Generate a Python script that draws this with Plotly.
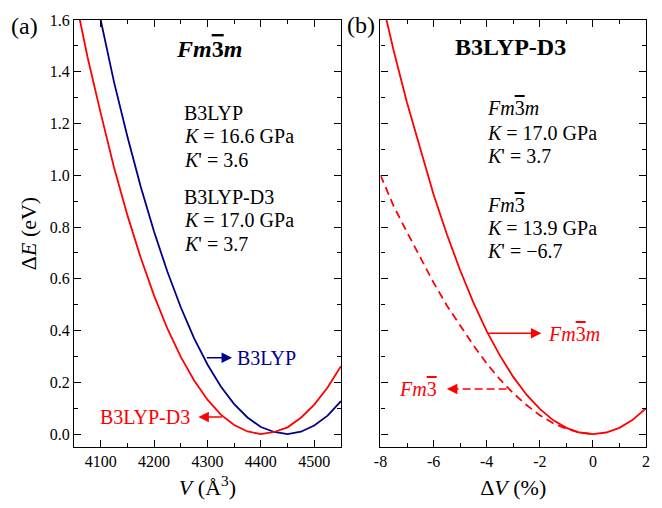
import plotly.graph_objects as go

# ---------------- data ----------------
V_grid = [4050, 4075, 4100, 4125, 4150, 4175, 4200, 4225, 4250, 4275, 4300,
          4325, 4350, 4375, 4400, 4425, 4450, 4475, 4500, 4525, 4550]
E_b3lyp = [2.13, 1.85, 1.60, 1.36, 1.15, 0.956, 0.782, 0.627, 0.490, 0.370, 0.269,
           0.184, 0.116, 0.064, 0.027, 0.008, 0.000, 0.009, 0.033, 0.071, 0.127]
E_b3lyp_d3 = [1.71, 1.46, 1.24, 1.03, 0.846, 0.681, 0.535, 0.407, 0.298, 0.207, 0.133,
              0.075, 0.035, 0.010, 0.000, 0.008, 0.026, 0.063, 0.114, 0.180, 0.262]

dV_grid = [-8, -7.5, -7, -6.5, -6, -5.5, -5, -4.5, -4, -3.5, -3, -2.5, -2,
           -1.5, -1, -0.5, 0, 0.5, 1, 1.5, 2]
E_fm3m = [1.70, 1.48, 1.28, 1.10, 0.926, 0.772, 0.633, 0.508, 0.398, 0.303, 0.221,
          0.152, 0.097, 0.054, 0.024, 0.006, 0.000, 0.006, 0.024, 0.055, 0.100]
dV_fm3 = [-8, -7.5, -7, -6.5, -6, -5.5, -5, -4.5, -4, -3.5, -3, -2.5, -2,
          -1.5, -1, -0.5, 0]
E_fm3 = [1.00, 0.88, 0.78, 0.68, 0.585, 0.497, 0.418, 0.343, 0.273, 0.211, 0.158,
         0.112, 0.073, 0.042, 0.020, 0.006, 0.000]

x1_ticks = [4100, 4200, 4300, 4400, 4500]
x1_ticktext = ["4100", "4200", "4300", "4400", "4500"]
x2_ticks = [-8, -6, -4, -2, 0, 2]
x2_ticktext = ["-8", "-6", "-4", "-2", "0", "2"]

RED = "#FF0000"
BLUE = "#00008C"
FONT = "Liberation Serif, Times New Roman, serif"
THREE_BAR = '<span style="text-decoration:overline">3</span>'
FM3M = "<i>Fm</i>" + THREE_BAR + "<i>m</i>"
FM3 = "<i>Fm</i>" + THREE_BAR

fig = go.Figure()
fig.add_trace(go.Scatter(x=V_grid, y=E_b3lyp, mode="lines",
                         line=dict(color=BLUE, width=1.8), xaxis="x", yaxis="y"))
fig.add_trace(go.Scatter(x=V_grid, y=E_b3lyp_d3, mode="lines",
                         line=dict(color=RED, width=1.8), xaxis="x", yaxis="y"))
fig.add_trace(go.Scatter(x=dV_fm3, y=E_fm3, mode="lines",
                         line=dict(color=RED, width=1.8, dash="8px,5px"), xaxis="x2", yaxis="y2"))
fig.add_trace(go.Scatter(x=dV_grid, y=E_fm3m, mode="lines",
                         line=dict(color=RED, width=1.8), xaxis="x2", yaxis="y2"))

common = dict(showline=True, linecolor="black", linewidth=1.3, mirror="ticks",
              ticks="inside", ticklen=7, tickwidth=1.3, tickcolor="black",
              showgrid=False, zeroline=False,
              tickfont=dict(family=FONT, size=16, color="black"))

fig.update_layout(
    width=662, height=508,
    margin=dict(l=74, r=14, t=16, b=59),
    paper_bgcolor="white", plot_bgcolor="white",
    showlegend=False,
    font=dict(family=FONT, color="black"),
    xaxis=dict(domain=[0, 0.4667], range=[4050, 4550], tickmode="array",
               tickvals=x1_ticks, ticktext=x1_ticktext,
               minor=dict(ticks="inside", ticklen=4, tickwidth=1.3, tickcolor="black",
                          tick0=4050, dtick=50),
               title=dict(text="<i>V</i> (Å<sup>3</sup>)", font=dict(family=FONT, size=22),
                          standoff=10),
               anchor="y", **common),
    yaxis=dict(domain=[0, 1], range=[-0.05, 1.6], dtick=0.2, tick0=0, tickformat=".1f",
               minor=dict(ticks="inside", ticklen=4, tickwidth=1.3, tickcolor="black",
                          tick0=0, dtick=0.1),
               title=dict(text="Δ<i>E</i> (eV)", font=dict(family=FONT, size=22),
                          standoff=6),
               anchor="x", **common),
    xaxis2=dict(domain=[0.5358, 1], range=[-8, 2], tickmode="array",
                tickvals=x2_ticks, ticktext=x2_ticktext,
                minor=dict(ticks="inside", ticklen=4, tickwidth=1.3, tickcolor="black",
                           tick0=0, dtick=1),
                title=dict(text="Δ<i>V</i> (%)", font=dict(family=FONT, size=22),
                           standoff=10),
                anchor="y2", **common),
    yaxis2=dict(domain=[0, 1], range=[-0.05, 1.6], dtick=0.2, tick0=0,
                showticklabels=False, matches="y",
                minor=dict(ticks="inside", ticklen=4, tickwidth=1.3, tickcolor="black",
                           tick0=0, dtick=0.1),
                anchor="x2", **common),
)

ann = []
def txt(text, x, y, xref, yref, size=20, color="black", xanchor="left", yanchor="middle"):
    ann.append(dict(text=text, x=x, y=y, xref=xref, yref=yref, showarrow=False,
                    font=dict(family=FONT, size=size, color=color),
                    xanchor=xanchor, yanchor=yanchor))

def arrow(xh, yh, xt, yt, xref, yref, color):
    ann.append(dict(text="", x=xh, y=yh, ax=xt, ay=yt, xref=xref, yref=yref,
                    axref=xref, ayref=yref, showarrow=True, arrowhead=2,
                    arrowsize=1.4, arrowwidth=1.5, arrowcolor=color, standoff=0))

# panel labels
txt("(a)", -0.087, 0.987, "paper", "paper", size=24, xanchor="center")
txt("(b)", 0.501, 0.988, "paper", "paper", size=24, xanchor="center")

# panel titles
txt("<b>" + FM3M + "</b>", 4303, 1.487, "x", "y", size=24, xanchor="center")
txt("<b>B3LYP-D3</b>", -3.11, 1.494, "x2", "y2", size=24, xanchor="center")

# left panel parameter text
TX1 = 4252
txt("B3LYP", TX1, 1.242, "x", "y")
txt("<i>K</i> = 16.6 GPa", TX1, 1.151, "x", "y")
txt("<i>K</i>' = 3.6", TX1, 1.060, "x", "y")
txt("B3LYP-D3", TX1, 0.916, "x", "y")
txt("<i>K</i> = 17.0 GPa", TX1, 0.828, "x", "y")
txt("<i>K</i>' = 3.7", TX1, 0.736, "x", "y")

# right panel parameter text
TX2 = -4.07
txt(FM3M, TX2, 1.259, "x2", "y2")
txt("<i>K</i> = 17.0 GPa", TX2, 1.164, "x2", "y2")
txt("<i>K</i>' = 3.7", TX2, 1.075, "x2", "y2")
txt(FM3, TX2, 0.885, "x2", "y2")
txt("<i>K</i> = 13.9 GPa", TX2, 0.796, "x2", "y2")
txt("<i>K</i>' = −6.7", TX2, 0.707, "x2", "y2")

# curve labels with arrows
txt("B3LYP", 4352, 0.295, "x", "y", color=BLUE)
arrow(4346, 0.295, 4296, 0.295, "x", "y", BLUE)
txt("B3LYP-D3", 4271, 0.066, "x", "y", color=RED, xanchor="right")
arrow(4283, 0.066, 4330, 0.066, "x", "y", RED)
txt(FM3M, -1.76, 0.385, "x2", "y2", color=RED)
arrow(-1.94, 0.39, -4.0, 0.39, "x2", "y2", RED)
txt(FM3, -5.81, 0.174, "x2", "y2", color=RED, xanchor="right")
arrow(-5.50, 0.174, -5.2, 0.174, "x2", "y2", RED)

fig.update_layout(annotations=ann)
fig.add_shape(type="line", x0=-3.25, x1=-5.3, y0=0.174, y1=0.174, xref="x2", yref="y2",
              line=dict(color=RED, width=1.5, dash="8px,4px"))

fig.write_html("out.html", config={"displayModeBar": False},
               post_script="document.body.style.margin='0px';")
